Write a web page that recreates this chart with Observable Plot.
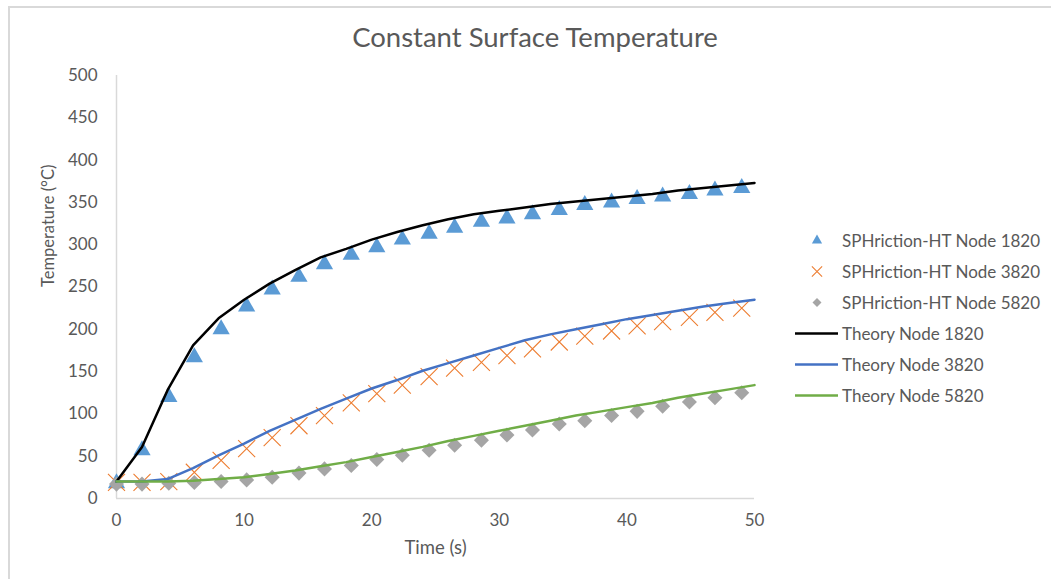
<!DOCTYPE html>
<html>
<head>
<meta charset="utf-8">
<script src="https://cdn.jsdelivr.net/npm/d3@7"></script>
<script src="https://cdn.jsdelivr.net/npm/@observablehq/plot@0.6"></script>
<style>
  html, body { margin: 0; padding: 0; background: #ffffff; }
  #wrap { position: relative; width: 1051px; height: 579px; overflow: hidden; font-family: Lato, "Open Sans", sans-serif; color: #595959; }
  #frame { position: absolute; left: 8px; top: 6px; width: 1200px; height: 700px; border-left: 2px solid #d9d9d9; border-top: 2px solid #d9d9d9; box-sizing: border-box; }
  #title { position: absolute; left: 116px; width: 838px; top: 20px; text-align: center; font-size: 27.5px; line-height: 34px; color: #595959; }
  #chart { position: absolute; left: 0; top: 0; }
  #legend { position: absolute; left: 795px; top: 225px; }
  .item { display: flex; align-items: center; height: 31px; font-size: 17px; color: #595959; white-space: nowrap; }
  .item svg { flex: none; }
  .item span { margin-left: 3px; }
</style>
</head>
<body>
<div id="wrap">
  <div id="frame"></div>
  <div id="chart"></div>
  <div id="title">Constant Surface Temperature</div>
  <div id="legend"></div>
</div>
<script>
// ---- data ----
const sphTime = [0, 2, 4.1, 6.1, 8.2, 10.2, 12.2, 14.3, 16.3, 18.4, 20.4, 22.4, 24.5, 26.5, 28.6, 30.6, 32.6, 34.7, 36.7, 38.8, 40.8, 42.8, 44.9, 46.9, 49];
const sph1820 = [18, 57, 120, 167, 200, 227, 247, 262, 277, 288, 297, 306, 313, 320, 327, 331, 336, 341, 347, 350, 354, 357, 360, 364, 367];
const sph3820 = [19, 19, 20, 31, 45, 59, 72, 86, 98, 113, 124, 134, 144, 154, 161, 169, 177, 185, 192, 198, 204, 209, 214, 220, 225];
const sph5820 = [17, 17, 18, 19, 20, 22, 25, 30, 35, 39, 46, 51, 57, 63, 69, 75, 81, 88, 92, 98, 103, 109, 114, 119, 125];

const theoryTime = [0, 2, 4, 6, 8, 10, 12, 14, 16, 18, 20, 22, 24, 26, 28, 30, 32, 34, 36, 38, 40, 42, 44, 46, 48, 50];
const theory1820 = [20, 61, 128, 181, 213, 235, 254, 270, 285, 295, 306, 315, 323, 330, 336, 340, 344, 348, 351, 354, 357, 360, 364, 367, 370, 373];
const theory3820 = [20, 20, 23, 36, 51, 65, 80, 93, 106, 118, 130, 140, 151, 160, 169, 178, 187, 194, 200, 206, 212, 217, 222, 227, 231, 235];
const theory5820 = [20, 20, 20, 21, 23, 25, 29, 33, 38, 43, 49, 55, 61, 68, 74, 80, 86, 92, 98, 103, 108, 113, 119, 124, 129, 134];

const seriesNames = ["SPHriction-HT Node 1820", "SPHriction-HT Node 3820", "SPHriction-HT Node 5820",
                     "Theory Node 1820", "Theory Node 3820", "Theory Node 5820"];
const xTicks = [0, 10, 20, 30, 40, 50];
const yTicks = [0, 50, 100, 150, 200, 250, 300, 350, 400, 450, 500];
const xLabel = "Time (s)";
const yLabel = "Temperature (°C)";

// ---- styles ----
const colors = {
  tri: "#5B9BD5", cross: "#ED7D31", dia: "#A5A5A5",
  t1: "#000000", t2: "#4472C4", t3: "#70AD47"
};
const diamondSym = {
  draw(ctx, size) {
    const r = Math.sqrt(size / 2);
    ctx.moveTo(0, -r); ctx.lineTo(r, 0); ctx.lineTo(0, r); ctx.lineTo(-r, 0); ctx.closePath();
  }
};

const toRows = (ts, vs) => ts.map((t, i) => ({t, v: vs[i]}));
const s1 = toRows(sphTime, sph1820), s2 = toRows(sphTime, sph3820), s3 = toRows(sphTime, sph5820);
const l1 = toRows(theoryTime, theory1820), l2 = toRows(theoryTime, theory3820), l3 = toRows(theoryTime, theory5820);

const chart = Plot.plot({
  width: 1051, height: 579,
  marginLeft: 116, marginRight: 297, marginTop: 75, marginBottom: 81,
  style: { fontFamily: "Lato, 'Open Sans', sans-serif", fontSize: "17px", color: "#595959", background: "transparent", overflow: "visible" },
  x: { domain: [0, 50] },
  y: { domain: [0, 500] },
  marks: [
    Plot.ruleX([0], { stroke: "#d9d9d9", strokeWidth: 1.5 }),
    Plot.ruleY([0], { stroke: "#d9d9d9", strokeWidth: 1.5 }),
    Plot.axisX({ ticks: xTicks, tickSize: 0, tickPadding: 15, label: null, fill: "#595959" }),
    Plot.axisY({ ticks: yTicks, tickSize: 0, tickPadding: 19, label: null, fill: "#595959" }),
    Plot.text([xLabel], { frameAnchor: "bottom", dy: 50, lineAnchor: "middle", fontSize: 18.5, fill: "#595959" }),
    Plot.text([yLabel], { frameAnchor: "left", dx: -68, lineAnchor: "middle", rotate: -90, fontSize: 16.5, fill: "#595959" }),
    Plot.dot(s1, { x: "t", y: "v", symbol: "triangle", r: 6.4, fill: colors.tri, stroke: "none" }),
    Plot.dot(s2, { x: "t", y: "v", symbol: "times", r: 7.8, stroke: colors.cross, strokeWidth: 1.1, fill: "none" }),
    Plot.dot(s3, { x: "t", y: "v", symbol: diamondSym, r: 6, fill: colors.dia, stroke: "none" }),
    Plot.line(l1, { x: "t", y: "v", stroke: colors.t1, strokeWidth: 2.5 }),
    Plot.line(l2, { x: "t", y: "v", stroke: colors.t2, strokeWidth: 2.5 }),
    Plot.line(l3, { x: "t", y: "v", stroke: colors.t3, strokeWidth: 2.5 })
  ]
});
document.getElementById("chart").appendChild(chart);

// ---- legend ----
const legend = d3.select("#legend");
const swatches = [
  {type: "sym", sym: d3.symbolTriangle, size: 45, fill: colors.tri},
  {type: "sym", sym: d3.symbolTimes, size: 70, stroke: colors.cross},
  {type: "sym", sym: diamondSym, size: 40, fill: colors.dia},
  {type: "line", stroke: colors.t1},
  {type: "line", stroke: colors.t2},
  {type: "line", stroke: colors.t3}
];
seriesNames.forEach((name, i) => {
  const sw = swatches[i];
  const row = legend.append("div").attr("class", "item");
  const svg = row.append("svg").attr("width", 44).attr("height", 31);
  if (sw.type === "sym") {
    svg.append("path")
      .attr("transform", "translate(22,15.5)")
      .attr("d", d3.symbol(sw.sym, sw.size)())
      .attr("fill", sw.fill || "none")
      .attr("stroke", sw.stroke || "none")
      .attr("stroke-width", 1.1);
  } else {
    svg.append("line").attr("x1", 0).attr("x2", 43).attr("y1", 15.5).attr("y2", 15.5)
      .attr("stroke", sw.stroke).attr("stroke-width", 2.5);
  }
  row.append("span").text(name);
});
</script>
</body>
</html>
